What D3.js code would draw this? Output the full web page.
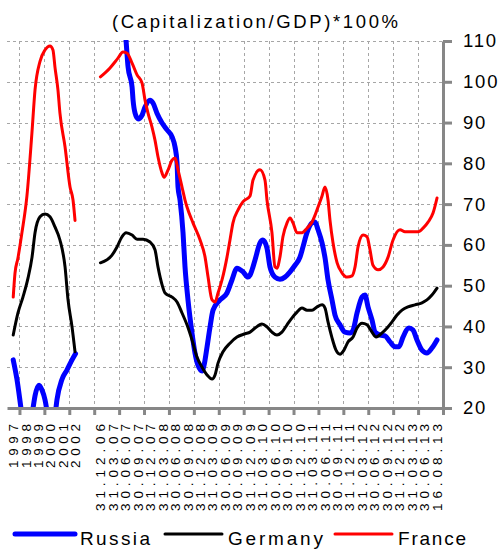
<!DOCTYPE html>
<html>
<head>
<meta charset="utf-8">
<script src="https://cdn.jsdelivr.net/npm/d3@7"></script>
<style>
  body { margin: 0; background: #fff; }
  svg { display: block; }
</style>
</head>
<body>
<div id="chart"></div>
<script>
// categories on the x axis (blank slot between the yearly and the quarterly part)
const categories = ["1997", "1998", "1999", "2000", "2001", "2002", "",
  "31.12.06", "31.03.07", "30.06.07", "30.09.07", "31.12.07", "31.03.08", "30.06.08",
  "30.09.08", "31.12.08", "31.03.09", "30.06.09", "30.09.09", "31.12.09", "31.03.10",
  "30.06.10", "30.09.10", "31.12.10", "31.03.11", "30.06.11", "30.09.11", "31.12.11",
  "31.03.12", "30.06.12", "30.09.12", "31.12.12", "31.03.13", "30.06.13", "16.08.13"];

const yTicks = [20, 30, 40, 50, 60, 70, 80, 90, 100, 110];

const seriesNames = ["Russia", "Germany", "France"];

// [position on the category axis, value]; null breaks the line
const russia = [
  [0, 31.8], [0.3, 27], [0.62, 20], [0.8, 16], [1.2, 15], [1.59, 20], [1.75, 23],
  [2.07, 25.6], [2.31, 24.4], [2.55, 22], [2.67, 20], [2.85, 16], [3.1, 15], [3.35, 18],
  [3.51, 22], [3.91, 27], [4.31, 29.3], [4.72, 31.8], [5.0, 33.3],
  null,
  [8.7, 125], [9.06, 110], [9.22, 103.6], [9.54, 98.7], [9.62, 95.5], [9.78, 92.3],
  [10.02, 90.9], [10.34, 91.8], [10.58, 93.8], [10.98, 95.5], [11.22, 94.8], [11.54, 92.3],
  [11.95, 89.9], [12.35, 88.2], [12.75, 86.5], [12.99, 84], [13.15, 80.1], [13.23, 74.2],
  [13.39, 71], [13.63, 63], [13.79, 54.6], [14.03, 46.5], [14.35, 38.4], [14.59, 33.5],
  [14.83, 30.5], [15.16, 29.1], [15.32, 30.5], [15.56, 35], [15.8, 39.9], [16.04, 44],
  [16.6, 46.5], [17.16, 48.2], [17.56, 51.4], [17.96, 54.3], [18.45, 53.4], [18.85, 52.1],
  [19.01, 52.6], [19.41, 56.3], [19.81, 60.5], [20.05, 61.2], [20.37, 59.2], [20.61, 54.6],
  [21.01, 52.1], [21.41, 51.6], [21.81, 52.1], [22.22, 53.4], [22.62, 55], [23.02, 57],
  [23.26, 59.5], [23.58, 63], [23.99, 65.4], [24.23, 65.6], [24.47, 63.7], [24.79, 60.5],
  [25.03, 56.8], [25.27, 51.4], [25.59, 46.5], [25.83, 42.8], [26.23, 40.4], [26.63, 38.6],
  [27.04, 38.4], [27.28, 39.1], [27.6, 43.3], [28.0, 47.2], [28.24, 47.7], [28.48, 44.8],
  [28.8, 41.6], [29.05, 38.6], [29.45, 37.9], [29.85, 37.7], [30.25, 36.2], [30.65, 35],
  [30.97, 35], [31.29, 37.4], [31.77, 39.6], [32.09, 39.1], [32.41, 36.7], [32.81, 34.2],
  [33.21, 33.5], [33.61, 34.7], [34.02, 36.7]
];

const germany = [
  [0, 37.9], [0.38, 43.3], [0.78, 47.2], [1.19, 51.9], [1.51, 57], [1.75, 63], [2.15, 66.9],
  [2.55, 67.6], [2.95, 66.9], [3.35, 64.4], [3.75, 61.2], [4.16, 54.6], [4.4, 46.5],
  [4.72, 39.9], [4.96, 33.8],
  null,
  [7.0, 55.6], [7.93, 57.5], [8.33, 59.5], [8.73, 62], [9.06, 63], [9.54, 62.4], [9.94, 61.4],
  [10.42, 61.4], [10.98, 60.7], [11.38, 58.8], [11.62, 54.6], [11.95, 50.2], [12.19, 48.2],
  [12.75, 47.2], [13.15, 46], [13.55, 43.3], [13.95, 40.4], [14.35, 36.7], [14.75, 32.5],
  [15.16, 30], [15.56, 28.1], [15.96, 27.1], [16.2, 28.1], [16.44, 31], [16.84, 33.8],
  [17.4, 35.9], [17.96, 37.4], [18.61, 38.2], [19.01, 38.6], [19.41, 39.6], [19.97, 40.6],
  [20.37, 39.9], [20.77, 38.6], [21.17, 37.9], [21.57, 38.6], [21.98, 40.4], [22.38, 42.1],
  [22.78, 43.5], [23.18, 44.5], [23.58, 44], [23.99, 44], [24.39, 44.8], [24.79, 45.3],
  [25.03, 44.5], [25.27, 41.1], [25.59, 37.2], [25.91, 34.2], [26.23, 33.2], [26.55, 34.2],
  [26.87, 36.2], [27.28, 37.4], [27.6, 39.6], [28.0, 40.8], [28.4, 40.4], [28.8, 38.6],
  [29.13, 37.4], [29.61, 38.4], [30.01, 39.6], [30.41, 41.1], [30.81, 42.8], [31.21, 44],
  [31.69, 44.8], [32.25, 45.3], [32.81, 45.8], [33.21, 46.5], [33.61, 47.7], [34.02, 49.4]
];

const france = [
  [0, 47.2], [0.14, 53], [0.38, 56.8], [0.7, 63], [1.1, 72], [1.5, 87.4], [1.75, 98],
  [2.15, 105], [2.55, 107.8], [2.95, 108.8], [3.19, 107.8], [3.35, 103.6], [3.59, 98],
  [3.75, 92.3], [4.16, 84], [4.56, 74.2], [4.8, 71], [4.96, 66],
  null,
  [7.0, 101.2], [7.77, 103.4], [8.41, 105.8], [8.81, 107.3], [9.14, 107], [9.54, 104.6],
  [9.94, 101.7], [10.34, 99.7], [10.58, 95.5], [10.82, 92.3], [11.14, 88.9], [11.38, 85.7],
  [11.62, 81.6], [11.95, 77.6], [12.11, 76.6], [12.43, 78.4], [12.75, 80.8], [12.99, 81.3],
  [13.23, 78.4], [13.55, 74.2], [13.79, 71], [13.95, 69.3], [14.43, 65.4], [15.0, 61.2],
  [15.4, 57], [15.64, 52.1], [15.96, 46.5], [16.2, 46], [16.44, 48.2], [16.76, 51.4],
  [17.16, 57], [17.4, 61.2], [17.64, 65.4], [18.05, 68.6], [18.45, 70.6], [19.01, 72],
  [19.25, 75.9], [19.81, 78.4], [20.21, 75.9], [20.37, 71], [20.77, 63], [21.01, 54.6],
  [21.17, 54.3], [21.41, 57], [21.65, 62], [21.98, 65.4], [22.22, 66.6], [22.46, 65.4],
  [22.78, 63], [23.18, 63], [23.58, 64.1], [23.99, 65.6], [24.23, 67.3], [24.47, 69.3],
  [24.79, 72], [25.03, 74.2], [25.27, 71], [25.43, 66], [25.67, 60.5], [26.0, 55.6],
  [26.4, 53.1], [26.8, 52.1], [27.2, 52.4], [27.44, 54.6], [27.68, 59.5], [28.08, 62.4],
  [28.4, 62], [28.64, 58.8], [28.88, 55], [29.29, 53.9], [29.69, 54.6], [30.09, 57],
  [30.49, 61.2], [31.05, 63.7], [31.45, 63.2], [32.01, 63.2], [32.5, 63.2], [32.9, 64.1],
  [33.3, 65.6], [33.7, 67.8], [34.02, 71.5]
];

const WIDTH = 500;
const HEIGHT = 549;
const PLOT_LEFT = 7;
const PLOT_RIGHT = 443;
const PLOT_TOP = 41;
const PLOT_BOTTOM = 408;
const FONT = "'Liberation Sans', Arial, sans-serif";
const AXIS_GREY = "#878787";
const GRID_GREY = "#a6a6a6";

const svg = d3.select("#chart")
  .append("svg")
  .attr("width", WIDTH)
  .attr("height", HEIGHT)
  .style("font-family", FONT);

const xScale = d3.scaleLinear()
  .domain([-0.5, categories.length - 0.5])
  .range([PLOT_LEFT, PLOT_RIGHT]);

const yScale = d3.scaleLinear()
  .domain([20, 110])
  .range([PLOT_BOTTOM, PLOT_TOP]);

// tick marks sit between every second category
const xTickPos = d3.range(0.5, categories.length, 2);

// grid
svg.append("g")
  .selectAll("line")
  .data(yTicks.filter(v => v > 20))
  .join("line")
  .attr("x1", PLOT_LEFT)
  .attr("x2", PLOT_RIGHT)
  .attr("y1", d => Math.round(yScale(d)) + 0.5)
  .attr("y2", d => Math.round(yScale(d)) + 0.5)
  .attr("stroke", GRID_GREY)
  .attr("stroke-width", 1)
  .attr("stroke-dasharray", "3,3");

svg.append("g")
  .selectAll("line")
  .data(xTickPos.filter(t => t < categories.length - 1))
  .join("line")
  .attr("x1", d => Math.round(xScale(d)) + 0.5)
  .attr("x2", d => Math.round(xScale(d)) + 0.5)
  .attr("y1", PLOT_TOP)
  .attr("y2", PLOT_BOTTOM)
  .attr("stroke", GRID_GREY)
  .attr("stroke-width", 1)
  .attr("stroke-dasharray", "3,3");

// lines
svg.append("clipPath")
  .attr("id", "plot-clip")
  .append("rect")
  .attr("x", PLOT_LEFT)
  .attr("y", PLOT_TOP - 1)
  .attr("width", PLOT_RIGHT - PLOT_LEFT)
  .attr("height", PLOT_BOTTOM - PLOT_TOP + 1);

const line = d3.line()
  .defined(d => d !== null)
  .x(d => xScale(d[0]))
  .y(d => yScale(d[1]))
  .curve(d3.curveMonotoneX);

const lines = [
  { data: russia, color: "#0000ff", width: 5 },
  { data: germany, color: "#000000", width: 3 },
  { data: france, color: "#ff0000", width: 3 }
];

svg.append("g")
  .attr("clip-path", "url(#plot-clip)")
  .selectAll("path")
  .data(lines)
  .join("path")
  .attr("fill", "none")
  .attr("stroke", d => d.color)
  .attr("stroke-width", d => d.width)
  .attr("stroke-linejoin", "round")
  .attr("stroke-linecap", "round")
  .attr("d", d => line(d.data));

// x axis
const xAxis = d3.axisBottom(xScale)
  .tickValues(xTickPos)
  .tickSize(7)
  .tickSizeOuter(0)
  .tickFormat("");

const gx = svg.append("g")
  .attr("transform", `translate(0, ${PLOT_BOTTOM})`)
  .call(xAxis);
gx.select(".domain").attr("stroke", AXIS_GREY).attr("stroke-width", 3);
gx.selectAll(".tick line").attr("stroke", AXIS_GREY).attr("stroke-width", 3);

// rotated category labels, spread out like the original
svg.append("g")
  .selectAll("text")
  .data(categories)
  .join("text")
  .attr("transform", (d, i) => `translate(${xScale(i)}, 424) rotate(-90)`)
  .attr("dy", "0.36em")
  .attr("text-anchor", "end")
  .attr("font-size", 13.5)
  .attr("textLength", d => d.length === 4 ? 44 : 87)
  .attr("lengthAdjust", "spacing")
  .attr("fill", "#000")
  .text(d => d);

// y axis on the right
const yAxis = d3.axisRight(yScale)
  .tickValues(yTicks)
  .tickSize(9)
  .tickSizeOuter(0)
  .tickPadding(11);

const gy = svg.append("g")
  .attr("transform", `translate(${PLOT_RIGHT}, 0)`)
  .call(yAxis);
gy.select(".domain").attr("stroke", AXIS_GREY).attr("stroke-width", 3);
gy.selectAll(".tick line").attr("stroke", AXIS_GREY).attr("stroke-width", 3);
gy.selectAll(".tick text")
  .attr("font-family", FONT)
  .attr("font-size", 18.5)
  .attr("letter-spacing", "1.8px")
  .attr("fill", "#000");

// title
svg.append("text")
  .attr("x", 112)
  .attr("y", 28)
  .attr("font-size", 18.5)
  .attr("textLength", 286)
  .attr("lengthAdjust", "spacing")
  .attr("fill", "#000")
  .text("(Capitalization/GDP)*100%");

// legend
const legendItems = [
  { name: seriesNames[0], color: "#0000ff", width: 5, x1: 15, x2: 75, tx: 80, tl: 70 },
  { name: seriesNames[1], color: "#000000", width: 3, x1: 165, x2: 222, tx: 228, tl: 95 },
  { name: seriesNames[2], color: "#ff0000", width: 3, x1: 335, x2: 392, tx: 398, tl: 68 }
];

const legend = svg.append("g");
legend.selectAll("line")
  .data(legendItems)
  .join("line")
  .attr("x1", d => d.x1)
  .attr("x2", d => d.x2)
  .attr("y1", 534)
  .attr("y2", 534)
  .attr("stroke", d => d.color)
  .attr("stroke-width", d => d.width)
  .attr("stroke-linecap", "round");

legend.selectAll("text")
  .data(legendItems)
  .join("text")
  .attr("x", d => d.tx)
  .attr("y", 545)
  .attr("font-size", 19)
  .attr("textLength", d => d.tl)
  .attr("lengthAdjust", "spacing")
  .attr("fill", "#000")
  .text(d => d.name);
</script>
</body>
</html>
